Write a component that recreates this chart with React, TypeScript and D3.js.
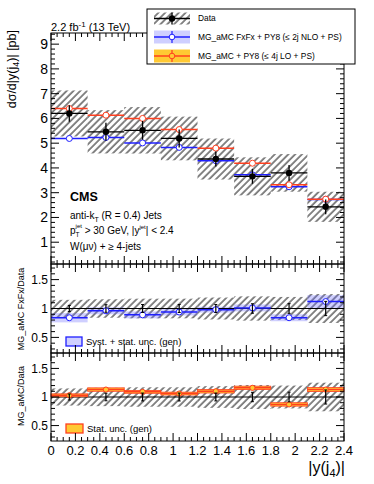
import { useEffect, useRef } from "react";
import * as d3 from "d3";

// bins in |y(j4)|
const binEdges = [0, 0.3, 0.6, 0.9, 1.2, 1.5, 1.8, 2.1, 2.4];

// main panel, dsigma/d|y(j4)| [pb]
const dataVal = [6.2, 5.46, 5.52, 5.19, 4.36, 3.66, 3.8, 2.43];
const dataStat = [0.33, 0.36, 0.38, 0.36, 0.3, 0.3, 0.32, 0.3];
const dataSystRel = [0.15, 0.16, 0.17, 0.17, 0.19, 0.21, 0.2, 0.25];
const fxfxVal = [5.19, 5.23, 5.01, 4.83, 4.29, 3.72, 3.24, 2.73];
const lo4jVal = [6.4, 6.13, 6.0, 5.55, 4.8, 4.19, 3.32, 2.74];

// ratio panels
const ratioFxfx = [0.84, 0.96, 0.89, 0.94, 0.98, 1.01, 0.84, 1.12];
const ratioFxfxUnc = [0.08, 0.06, 0.06, 0.06, 0.05, 0.06, 0.06, 0.11];
const ratioLo4j = [1.03, 1.13, 1.09, 1.06, 1.1, 1.16, 0.87, 1.13];
const ratioLo4jUnc = [0.025, 0.03, 0.025, 0.025, 0.03, 0.03, 0.03, 0.035];

// tick labels
const xTicks = [0, 0.2, 0.4, 0.6, 0.8, 1, 1.2, 1.4, 1.6, 1.8, 2, 2.2, 2.4];
const mainYTicks = [1, 2, 3, 4, 5, 6, 7, 8, 9];
const ratioYTicks = [0.5, 1, 1.5];

const FONT = "'Liberation Sans', Arial, Helvetica, sans-serif";
const RED = "#ff3f1f";
const BLUE = "#1f1fff";
const BLUE_BAND = "rgba(110,110,255,0.33)";
const ORANGE = "#ffc933";

const App = () => {
  const ref = useRef<SVGSVGElement | null>(null);

  useEffect(() => {
    if (!ref.current) return;
    document.body.style.margin = "0";
    const svg = d3.select(ref.current);
    svg.selectAll("*").remove();

    const L = 51, R = 344;
    const x = d3.scaleLinear().domain([0, 2.4]).range([L, R]);
    const yMain = d3.scaleLinear().domain([0.12, 9.45]).range([264, 33]);
    const yR1 = d3.scaleLinear().domain([0.23, 1.77]).range([353, 264]);
    const yR2 = d3.scaleLinear().domain([0.23, 1.77]).range([441, 353]);

    // hatch pattern
    const defs = svg.append("defs");
    defs.append("pattern")
      .attr("id", "hatch")
      .attr("patternUnits", "userSpaceOnUse")
      .attr("width", 4.8)
      .attr("height", 4.8)
      .attr("patternTransform", "rotate(45)")
      .append("line")
      .attr("x1", 1).attr("x2", 1).attr("y1", 0).attr("y2", 4.8)
      .attr("stroke", "#222").attr("stroke-width", 1.1);

    const bins = dataVal.map((v, i) => ({ i, lo: binEdges[i], hi: binEdges[i + 1], c: (binEdges[i] + binEdges[i + 1]) / 2 }));

    const axes = (y: d3.ScaleLinear<number, number>, yTicks: number[], yMinor: number, fs: number, top: number, bottom: number, showX: boolean) => {
      const g = svg.append("g");
      g.append("rect").attr("x", L).attr("y", top).attr("width", R - L).attr("height", bottom - top)
        .attr("fill", "none").attr("stroke", "#000").attr("stroke-width", 1);
      // x ticks bottom and top
      const xMinor = d3.range(0, 2.4001, 0.05);
      xMinor.forEach((v) => {
        const isMaj = xTicks.some((t) => Math.abs(t - v) < 1e-6);
        const len = isMaj ? 8 : 4;
        g.append("line").attr("x1", x(v)).attr("x2", x(v)).attr("y1", bottom).attr("y2", bottom - len).attr("stroke", "#000");
        g.append("line").attr("x1", x(v)).attr("x2", x(v)).attr("y1", top).attr("y2", top + len).attr("stroke", "#000");
      });
      const [d0, d1] = y.domain();
      d3.range(Math.ceil(d0 / yMinor) * yMinor, d1, yMinor).forEach((v) => {
        const isMaj = yTicks.some((t) => Math.abs(t - v) < 1e-6);
        const len = isMaj ? 8 : 4;
        g.append("line").attr("x1", L).attr("x2", L + len).attr("y1", y(v)).attr("y2", y(v)).attr("stroke", "#000");
        g.append("line").attr("x1", R).attr("x2", R - len).attr("y1", y(v)).attr("y2", y(v)).attr("stroke", "#000");
      });
      yTicks.forEach((t) => {
        g.append("text").attr("x", 48).attr("y", y(t)).attr("dy", "0.36em").attr("text-anchor", "end")
          .style("font-family", FONT).style("font-size", fs + "px").text(t);
      });
      if (showX) {
        xTicks.forEach((t) => {
          g.append("text").attr("x", x(t)).attr("y", bottom + 14).attr("text-anchor", "middle")
            .style("font-family", FONT).style("font-size", "13px").text(t);
        });
      }
    };

    // ---------- main panel ----------
    const gm = svg.append("g");
    gm.selectAll(".hatch").data(bins).enter().append("rect")
      .attr("x", (d) => x(d.lo)).attr("width", (d) => x(d.hi) - x(d.lo))
      .attr("y", (d) => yMain(dataVal[d.i] * (1 + dataSystRel[d.i])))
      .attr("height", (d) => yMain(dataVal[d.i] * (1 - dataSystRel[d.i])) - yMain(dataVal[d.i] * (1 + dataSystRel[d.i])))
      .attr("fill", "url(#hatch)");

    const series = [
      { vals: fxfxVal, color: BLUE },
      { vals: lo4jVal, color: RED },
    ];
    series.forEach((s) => {
      gm.selectAll(null).data(bins).enter().append("line")
        .attr("x1", (d) => x(d.lo)).attr("x2", (d) => x(d.hi))
        .attr("y1", (d) => yMain(s.vals[d.i])).attr("y2", (d) => yMain(s.vals[d.i]))
        .attr("stroke", s.color).attr("stroke-width", 1.5);
      gm.selectAll(null).data(bins).enter().append("circle")
        .attr("cx", (d) => x(d.c)).attr("cy", (d) => yMain(s.vals[d.i])).attr("r", 3)
        .attr("fill", "#fff").attr("stroke", s.color).attr("stroke-width", 1);
    });
    // data
    gm.selectAll(null).data(bins).enter().append("line")
      .attr("x1", (d) => x(d.lo)).attr("x2", (d) => x(d.hi))
      .attr("y1", (d) => yMain(dataVal[d.i])).attr("y2", (d) => yMain(dataVal[d.i]))
      .attr("stroke", "#000").attr("stroke-width", 1.3);
    gm.selectAll(null).data(bins).enter().append("line")
      .attr("x1", (d) => x(d.c)).attr("x2", (d) => x(d.c))
      .attr("y1", (d) => yMain(dataVal[d.i] + dataStat[d.i])).attr("y2", (d) => yMain(dataVal[d.i] - dataStat[d.i]))
      .attr("stroke", "#000").attr("stroke-width", 1.3);
    gm.selectAll(null).data(bins).enter().append("circle")
      .attr("cx", (d) => x(d.c)).attr("cy", (d) => yMain(dataVal[d.i])).attr("r", 3.2).attr("fill", "#000");

    axes(yMain, mainYTicks, 0.2, 14, 33, 264, false);

    // ---------- ratio panel 1 ----------
    const g1 = svg.append("g");
    g1.selectAll(null).data(bins).enter().append("rect")
      .attr("x", (d) => x(d.lo)).attr("width", (d) => x(d.hi) - x(d.lo))
      .attr("y", (d) => yR1(1 + dataSystRel[d.i])).attr("height", (d) => yR1(1 - dataSystRel[d.i]) - yR1(1 + dataSystRel[d.i]))
      .attr("fill", "url(#hatch)");
    g1.selectAll(null).data(bins).enter().append("rect")
      .attr("x", (d) => x(d.lo)).attr("width", (d) => x(d.hi) - x(d.lo))
      .attr("y", (d) => yR1(ratioFxfx[d.i] + ratioFxfxUnc[d.i]))
      .attr("height", (d) => yR1(ratioFxfx[d.i] - ratioFxfxUnc[d.i]) - yR1(ratioFxfx[d.i] + ratioFxfxUnc[d.i]))
      .attr("fill", BLUE_BAND);
    g1.append("line").attr("x1", L).attr("x2", R).attr("y1", yR1(1)).attr("y2", yR1(1)).attr("stroke", "#000").attr("stroke-width", 1.2);
    g1.selectAll(null).data(bins).enter().append("line")
      .attr("x1", (d) => x(d.lo)).attr("x2", (d) => x(d.hi))
      .attr("y1", (d) => yR1(ratioFxfx[d.i])).attr("y2", (d) => yR1(ratioFxfx[d.i]))
      .attr("stroke", BLUE).attr("stroke-width", 1.5);
    g1.selectAll(null).data(bins).enter().append("circle")
      .attr("cx", (d) => x(d.c)).attr("cy", (d) => yR1(ratioFxfx[d.i])).attr("r", 3)
      .attr("fill", "#fff").attr("stroke", BLUE);

    // ---------- ratio panel 2 ----------
    const g2 = svg.append("g");
    g2.selectAll(null).data(bins).enter().append("rect")
      .attr("x", (d) => x(d.lo)).attr("width", (d) => x(d.hi) - x(d.lo))
      .attr("y", (d) => yR2(1 + dataSystRel[d.i])).attr("height", (d) => yR2(1 - dataSystRel[d.i]) - yR2(1 + dataSystRel[d.i]))
      .attr("fill", "url(#hatch)");
    g2.append("line").attr("x1", L).attr("x2", R).attr("y1", yR2(1)).attr("y2", yR2(1)).attr("stroke", "#000").attr("stroke-width", 1.2);
    g2.selectAll(null).data(bins).enter().append("rect")
      .attr("x", (d) => x(d.lo)).attr("width", (d) => x(d.hi) - x(d.lo))
      .attr("y", (d) => yR2(ratioLo4j[d.i] + ratioLo4jUnc[d.i]))
      .attr("height", (d) => yR2(ratioLo4j[d.i] - ratioLo4jUnc[d.i]) - yR2(ratioLo4j[d.i] + ratioLo4jUnc[d.i]))
      .attr("fill", ORANGE).attr("stroke", RED).attr("stroke-width", 0.8);
    g2.selectAll(null).data(bins).enter().append("line")
      .attr("x1", (d) => x(d.lo)).attr("x2", (d) => x(d.hi))
      .attr("y1", (d) => yR2(ratioLo4j[d.i])).attr("y2", (d) => yR2(ratioLo4j[d.i]))
      .attr("stroke", RED).attr("stroke-width", 1.5);
    g2.selectAll(null).data(bins).enter().append("circle")
      .attr("cx", (d) => x(d.c)).attr("cy", (d) => yR2(ratioLo4j[d.i])).attr("r", 2.6)
      .attr("fill", ORANGE).attr("stroke", RED);

    // data stat bars in ratios
    [{ g: g1, y: yR1 }, { g: g2, y: yR2 }].forEach(({ g, y }) => {
      bins.forEach((d) => {
        const rel = dataStat[d.i] / dataVal[d.i];
        const cx = x(d.c);
        g.append("line").attr("x1", cx).attr("x2", cx).attr("y1", y(1 + rel)).attr("y2", y(1 - rel)).attr("stroke", "#000").attr("stroke-width", 1.2);
        [1 + rel, 1 - rel].forEach((v) => {
          g.append("line").attr("x1", cx - 1.5).attr("x2", cx + 1.5).attr("y1", y(v)).attr("y2", y(v)).attr("stroke", "#000").attr("stroke-width", 1);
        });
      });
    });

    axes(yR1, ratioYTicks, 0.1, 12, 264, 353, false);
    axes(yR2, ratioYTicks, 0.1, 12, 353, 441, true);

    // ratio legends
    g1.append("rect").attr("x", 66).attr("y", 337).attr("width", 16).attr("height", 9)
      .attr("fill", BLUE_BAND).attr("stroke", BLUE).attr("stroke-width", 1.3);
    g1.append("text").attr("x", 86).attr("y", 345).style("font-family", FONT).style("font-size", "9.5px").text("Syst. + stat. unc. (gen)");
    g2.append("rect").attr("x", 66).attr("y", 424).attr("width", 17).attr("height", 9)
      .attr("fill", ORANGE).attr("stroke", RED).attr("stroke-width", 1.3);
    g2.append("text").attr("x", 87).attr("y", 432).style("font-family", FONT).style("font-size", "9.5px").text("Stat. unc. (gen)");

    // ---------- texts ----------
    const lumi = svg.append("text").attr("x", 51).attr("y", 31).style("font-family", FONT).style("font-size", "11px");
    lumi.append("tspan").text("2.2 fb");
    lumi.append("tspan").attr("dy", -4).style("font-size", "8px").text("-1");
    lumi.append("tspan").attr("dy", 4).text(" (13 TeV)");

    const yt = svg.append("text").attr("transform", "translate(16,30) rotate(-90)").attr("text-anchor", "end")
      .style("font-family", FONT).style("font-size", "12.5px");
    yt.append("tspan").text("dσ/d|y(j");
    yt.append("tspan").attr("dy", 3).style("font-size", "9px").text("4");
    yt.append("tspan").attr("dy", -3).text(")|  [pb]");

    svg.append("text").attr("transform", "translate(24,309) rotate(-90)").attr("text-anchor", "middle")
      .style("font-family", FONT).style("font-size", "9px").text("MG_aMC FxFx/Data");
    svg.append("text").attr("transform", "translate(24,396) rotate(-90)").attr("text-anchor", "middle")
      .style("font-family", FONT).style("font-size", "9px").text("MG_aMC/Data");

    const xt = svg.append("text").attr("x", 345).attr("y", 473).attr("text-anchor", "end")
      .style("font-family", FONT).style("font-size", "16px");
    xt.append("tspan").text("|y(j");
    xt.append("tspan").attr("dy", 4).style("font-size", "11px").text("4");
    xt.append("tspan").attr("dy", -4).text(")|");

    svg.append("text").attr("x", 70).attr("y", 201).style("font-family", FONT).style("font-size", "12.5px")
      .style("font-weight", "bold").text("CMS");
    const t1 = svg.append("text").attr("x", 70).attr("y", 219).style("font-family", FONT).style("font-size", "10px");
    t1.append("tspan").text("anti-k");
    t1.append("tspan").attr("dy", 3).style("font-size", "7px").text("T");
    t1.append("tspan").attr("dy", -3).text(" (R = 0.4) Jets");
    const t2 = svg.append("text").attr("x", 70).attr("y", 234).style("font-family", FONT).style("font-size", "10px");
    t2.append("tspan").text("p");
    t2.append("tspan").attr("dy", 3).style("font-size", "6.5px").text("T");
    t2.append("tspan").attr("dx", -4).attr("dy", -9).style("font-size", "6px").text("jet");
    t2.append("tspan").attr("dy", 6).text(" > 30 GeV, |y");
    t2.append("tspan").attr("dy", -5).style("font-size", "6px").text("jet");
    t2.append("tspan").attr("dy", 5).text("| < 2.4");
    svg.append("text").attr("x", 70).attr("y", 250).style("font-family", FONT).style("font-size", "10px")
      .text("W(μν) + ≥ 4-jets");

    // ---------- legend ----------
    const lg = svg.append("g");
    lg.append("rect").attr("x", 147).attr("y", 9).attr("width", 208).attr("height", 55)
      .attr("fill", "#fff").attr("stroke", "#000").attr("stroke-width", 1);
    const sx0 = 154, sx1 = 190, sxc = 172;
    const rows = [
      { y: 18.5, label: "Data" },
      { y: 37, label: "MG_aMC FxFx + PY8 (≤ 2j NLO + PS)" },
      { y: 56, label: "MG_aMC + PY8 (≤ 4j LO + PS)" },
    ];
    // data entry
    lg.append("rect").attr("x", sx0).attr("y", rows[0].y - 6).attr("width", sx1 - sx0).attr("height", 12).attr("fill", "url(#hatch)");
    lg.append("line").attr("x1", sx0).attr("x2", sx1).attr("y1", rows[0].y).attr("y2", rows[0].y).attr("stroke", "#000").attr("stroke-width", 1.3);
    lg.append("line").attr("x1", sxc).attr("x2", sxc).attr("y1", rows[0].y - 6).attr("y2", rows[0].y + 6).attr("stroke", "#000").attr("stroke-width", 1.3);
    lg.append("circle").attr("cx", sxc).attr("cy", rows[0].y).attr("r", 3.2).attr("fill", "#000");
    // model entries
    [{ row: rows[1], fill: BLUE_BAND, color: BLUE, mfill: "#fff" }, { row: rows[2], fill: ORANGE, color: RED, mfill: ORANGE }].forEach((e) => {
      lg.append("rect").attr("x", sx0).attr("y", e.row.y - 6.5).attr("width", sx1 - sx0).attr("height", 13).attr("fill", e.fill);
      lg.append("line").attr("x1", sx0).attr("x2", sx1).attr("y1", e.row.y).attr("y2", e.row.y).attr("stroke", e.color).attr("stroke-width", 1.5);
      lg.append("line").attr("x1", sxc).attr("x2", sxc).attr("y1", e.row.y - 6).attr("y2", e.row.y + 6).attr("stroke", e.color).attr("stroke-width", 1.2);
      lg.append("circle").attr("cx", sxc).attr("cy", e.row.y).attr("r", 2.8).attr("fill", e.mfill).attr("stroke", e.color);
    });
    rows.forEach((r) => {
      lg.append("text").attr("x", 198).attr("y", r.y).attr("dy", "0.35em")
        .style("font-family", FONT).style("font-size", "8.4px").text(r.label);
    });
  }, []);

  return (
    <svg ref={ref} width={374} height={484} style={{ position: "absolute", left: 0, top: 0, display: "block", background: "#fff" }} />
  );
};

export default App;
